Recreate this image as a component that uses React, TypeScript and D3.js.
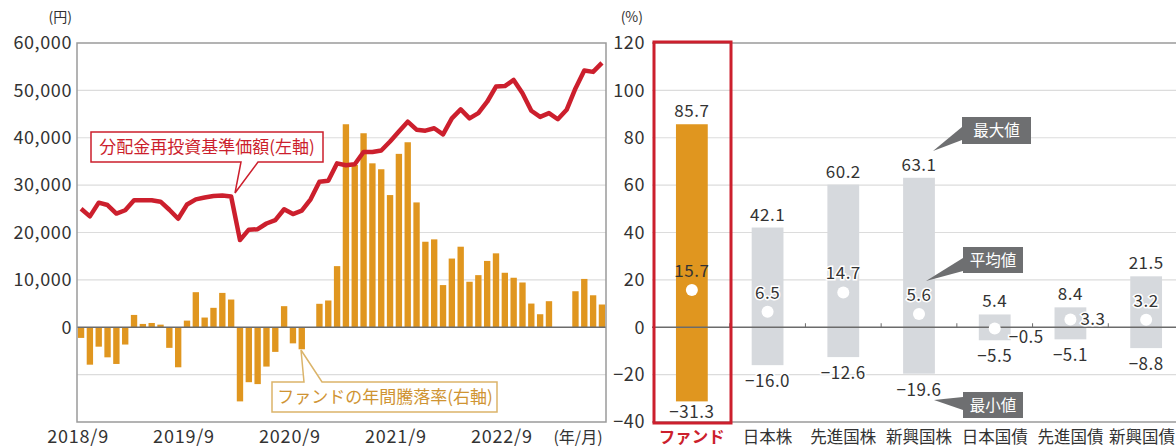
import React, { useEffect, useRef } from 'react';
import * as d3 from 'd3';

// monthly categories 2018/9 .. 2023/8
const monthLabels: string[] = [];
for (let i = 0; i < 60; i++) {
  const m = 8 + i;
  monthLabels.push(`${2018 + Math.floor(m / 12)}/${(m % 12) + 1}`);
}
const xTickLabels = ['2018/9', '2019/9', '2020/9', '2021/9', '2022/9'];

// 分配金再投資基準価額 (円)
const navValues = [
  25000, 23400, 26300, 25800, 24000, 24700, 26800, 26800, 26800, 26500,
  24800, 22900, 25900, 27000, 27400, 27700, 27800, 27600, 18400, 20600,
  20700, 21900, 22600, 24900, 23900, 24600, 27000, 30700, 30900, 34600,
  34200, 34400, 37000, 37000, 37300, 39200, 41300, 43400, 41700, 41500,
  42000, 40700, 44100, 46000, 44100, 45200, 47600, 50800, 50900, 52200,
  49400, 45700, 44400, 45200, 43900, 45900, 50400, 54200, 53900, 55800,
];

// ファンドの年間騰落率 (%)
const fundReturns = [
  -4.5, -15.8, -8.2, -12.7, -15.5, -7.3, 5.2, 1.4, 1.8, 1.1,
  -8.7, -16.9, 2.8, 14.8, 4.1, 8.2, 14.5, 11.7, -31.3, -23.2,
  -24.0, -16.6, -10.4, 8.9, -6.8, -9.3, 0, 9.9, 11.3, 25.8,
  85.7, 68.5, 81.9, 69.2, 66.7, 55.8, 73.2, 78.1, 52.7, 36.1,
  37.1, 17.8, 29.0, 34.0, 19.2, 22.0, 28.0, 31.2, 23.0, 20.9,
  18.9, 10.0, 5.5, 11.0, -0.3, 0, 15.2, 20.4, 13.5, 9.6,
];

const yenTicks = [0, 10000, 20000, 30000, 40000, 50000, 60000];
const pctTicks = [-40, -20, 0, 20, 40, 60, 80, 100, 120];

// 他の資産との騰落率比較
const assetCats = ['ファンド', '日本株', '先進国株', '新興国株', '日本国債', '先進国債', '新興国債'];
const maxVals = [85.7, 42.1, 60.2, 63.1, 5.4, 8.4, 21.5];
const avgVals = [15.7, 6.5, 14.7, 5.6, -0.5, 3.3, 3.2];
const minVals = [-31.3, -16.0, -12.6, -19.6, -5.5, -5.1, -8.8];
// where the average label sits relative to its dot
const avgLabelSide = ['above', 'above', 'above', 'above', 'rightBelow', 'right', 'above'];

const FONT = '"Noto Sans CJK JP", "Noto Sans", sans-serif';
const ORANGE = '#e0961f';
const RED = '#cc1f2d';
const GRAY_BAR = '#d6d9dd';
const TEXT = '#333';

const App = () => {
  const svgRef = useRef<SVGSVGElement>(null);

  useEffect(() => {
    const width = 1176;
    const height = 447;
    const top = 43;
    const bottom = 422;

    d3.select(svgRef.current).selectAll('*').remove();
    const svg = d3.select(svgRef.current)
      .attr('width', width)
      .attr('height', height)
      .style('font-family', FONT);

    svg.append('rect').attr('width', width).attr('height', height).attr('fill', '#fff');

    // scales
    const x = d3.scaleBand<number>()
      .domain(d3.range(monthLabels.length))
      .range([77, 606])
      .paddingInner(0.28)
      .paddingOuter(0.1);
    const yYen = d3.scaleLinear().domain([-20000, 60000]).range([bottom, top]);
    const yPct = d3.scaleLinear().domain([-40, 120]).range([bottom, top]);
    const xc = d3.scaleBand<string>()
      .domain(assetCats)
      .range([654, 1184])
      .paddingInner(0.58)
      .paddingOuter(0.29);

    // ---------- left chart ----------
    const left = svg.append('g');

    left.selectAll('.grid')
      .data([-10000, 10000, 20000, 30000, 40000, 50000])
      .enter()
      .append('line')
      .attr('x1', 77).attr('x2', 606)
      .attr('y1', d => yYen(d)).attr('y2', d => yYen(d))
      .attr('stroke', '#dcdcdc')
      .attr('stroke-width', 1.2);

    left.selectAll('.bar')
      .data(fundReturns)
      .enter()
      .append('rect')
      .attr('x', (d, i) => x(i)!)
      .attr('y', d => yPct(Math.max(0, d)))
      .attr('width', x.bandwidth())
      .attr('height', d => Math.abs(yPct(d) - yPct(0)))
      .attr('fill', ORANGE);

    left.append('line')
      .attr('x1', 77).attr('x2', 606)
      .attr('y1', yPct(0)).attr('y2', yPct(0))
      .attr('stroke', '#6b6b6b')
      .attr('stroke-width', 1.5);

    left.append('rect')
      .attr('x', 77).attr('y', top)
      .attr('width', 529).attr('height', bottom - top)
      .attr('fill', 'none')
      .attr('stroke', '#9a9a9a')
      .attr('stroke-width', 1.5);

    const line = d3.line<number>()
      .x((d, i) => x(i)! + x.bandwidth() / 2)
      .y(d => yYen(d));
    left.append('path')
      .datum(navValues)
      .attr('d', line)
      .attr('fill', 'none')
      .attr('stroke', RED)
      .attr('stroke-width', 4.5)
      .attr('stroke-linejoin', 'round');

    // left axis (円)
    const yAxisL = left.append('g')
      .attr('transform', 'translate(77,0)')
      .call(d3.axisLeft(yYen).tickValues(yenTicks).tickSize(0).tickPadding(5).tickFormat(d3.format(',')));
    yAxisL.select('.domain').remove();
    yAxisL.selectAll('text')
      .style('font-size', '18px')
      .style('letter-spacing', '0.6px')
      .attr('fill', TEXT)
      .style('font-family', FONT);

    left.append('text')
      .attr('x', 72).attr('y', 22)
      .attr('text-anchor', 'end')
      .style('font-size', '14px')
      .attr('fill', TEXT)
      .text('(円)');

    // x axis
    const xAxis = left.append('g')
      .attr('transform', `translate(-3,${bottom})`)
      .call(d3.axisBottom(x)
        .tickValues(xTickLabels.map(l => monthLabels.indexOf(l)))
        .tickFormat(i => monthLabels[i as number])
        .tickSize(0)
        .tickPadding(8));
    xAxis.select('.domain').remove();
    xAxis.selectAll('text')
      .style('font-size', '18px')
      .style('letter-spacing', '0.8px')
      .attr('fill', TEXT)
      .style('font-family', FONT);

    left.append('text')
      .attr('x', 578).attr('y', 443)
      .attr('text-anchor', 'middle')
      .style('font-size', '16px')
      .attr('fill', TEXT)
      .text('(年/月)');

    // callout: 基準価額
    left.append('path')
      .attr('d', 'M91,132 H323 V162 H258 L235,193 L241,162 H91 Z')
      .attr('fill', '#fff')
      .attr('stroke', RED)
      .attr('stroke-width', 1.5);
    left.append('text')
      .attr('x', 207).attr('y', 153)
      .attr('text-anchor', 'middle')
      .style('font-size', '17px')
      .attr('fill', RED)
      .text('分配金再投資基準価額(左軸)');

    // callout: 年間騰落率
    left.append('path')
      .attr('d', 'M272,382 H304 L301,350 L322,382 H497 V412 H272 Z')
      .attr('fill', '#fff')
      .attr('stroke', '#dbb46a')
      .attr('stroke-width', 1.5);
    left.append('text')
      .attr('x', 385).attr('y', 403)
      .attr('text-anchor', 'middle')
      .style('font-size', '17px')
      .attr('fill', '#cf9433')
      .text('ファンドの年間騰落率(右軸)');

    // ---------- right axis (%) ----------
    const yAxisR = svg.append('g')
      .attr('transform', 'translate(650,0)')
      .call(d3.axisLeft(yPct).tickValues(pctTicks).tickSize(0).tickPadding(5));
    yAxisR.select('.domain').remove();
    yAxisR.selectAll('text')
      .style('font-size', '18px')
      .style('letter-spacing', '0.6px')
      .attr('fill', TEXT)
      .style('font-family', FONT);

    svg.append('text')
      .attr('x', 643).attr('y', 22)
      .attr('text-anchor', 'end')
      .style('font-size', '14px')
      .attr('fill', TEXT)
      .text('(%)');

    // ---------- right chart ----------
    const right = svg.append('g');
    const step = xc.step();
    const bw = xc.bandwidth();

    right.selectAll('.grid')
      .data([-20, 20, 40, 60, 80, 100])
      .enter()
      .append('line')
      .attr('x1', 652).attr('x2', width)
      .attr('y1', d => yPct(d)).attr('y2', d => yPct(d))
      .attr('stroke', '#dcdcdc')
      .attr('stroke-width', 1.2);

    [top, bottom].forEach(yy => {
      right.append('line')
        .attr('x1', 652).attr('x2', width)
        .attr('y1', yy).attr('y2', yy)
        .attr('stroke', '#9a9a9a')
        .attr('stroke-width', 1.5);
    });

    const rows = assetCats.map((c, i) => ({ c, i, max: maxVals[i], avg: avgVals[i], min: minVals[i], side: avgLabelSide[i] }));

    right.selectAll('.rbar')
      .data(rows)
      .enter()
      .append('rect')
      .attr('x', d => xc(d.c)!)
      .attr('y', d => yPct(d.max))
      .attr('width', bw)
      .attr('height', d => yPct(d.min) - yPct(d.max))
      .attr('fill', d => (d.i === 0 ? ORANGE : GRAY_BAR));

    right.append('line')
      .attr('x1', 652).attr('x2', width)
      .attr('y1', yPct(0)).attr('y2', yPct(0))
      .attr('stroke', '#6b6b6b')
      .attr('stroke-width', 1.5);

    right.selectAll('.tick-mark')
      .data(assetCats.slice(1))
      .enter()
      .append('line')
      .attr('x1', d => xc(d)! + bw / 2 - step / 2)
      .attr('x2', d => xc(d)! + bw / 2 - step / 2)
      .attr('y1', yPct(0) - 4)
      .attr('y2', yPct(0))
      .attr('stroke', '#6b6b6b')
      .attr('stroke-width', 1);

    right.selectAll('.dot')
      .data(rows)
      .enter()
      .append('circle')
      .attr('cx', d => xc(d.c)! + bw / 2)
      .attr('cy', d => yPct(d.avg))
      .attr('r', 6)
      .attr('fill', '#fff');

    const fmt = d3.format('.1f');
    const label = (sel: any) => sel
      .attr('fill', TEXT)
      .style('font-size', '17px')
      .style('letter-spacing', '0.5px')
      .attr('stroke', '#fff')
      .attr('stroke-width', 3)
      .attr('paint-order', 'stroke');

    right.selectAll('.maxl')
      .data(rows)
      .enter()
      .append('text')
      .attr('x', d => xc(d.c)! + bw / 2)
      .attr('y', d => yPct(d.max) - 7)
      .attr('text-anchor', 'middle')
      .text(d => fmt(d.max))
      .call(label);

    right.selectAll('.minl')
      .data(rows)
      .enter()
      .append('text')
      .attr('x', d => xc(d.c)! + bw / 2)
      .attr('y', d => Math.min(yPct(d.min) + 22, 418))
      .attr('text-anchor', 'middle')
      .text(d => fmt(d.min))
      .call(label);

    right.selectAll('.avgl')
      .data(rows)
      .enter()
      .append('text')
      .attr('x', d => {
        const cx = xc(d.c)! + bw / 2;
        return d.side === 'above' ? cx : d.side === 'right' ? cx + 10 : cx + 14;
      })
      .attr('y', d => {
        const cy = yPct(d.avg);
        return d.side === 'above' ? cy - 13 : d.side === 'right' ? cy + 6 : cy + 15;
      })
      .attr('text-anchor', d => (d.side === 'above' ? 'middle' : 'start'))
      .text(d => fmt(d.avg))
      .call(label)
      .attr('stroke-width', d => (d.i === 0 ? 0 : 3));

    // fund highlight box
    right.append('rect')
      .attr('x', 654).attr('y', 42)
      .attr('width', 77).attr('height', 381)
      .attr('fill', 'none')
      .attr('stroke', RED)
      .attr('stroke-width', 3);

    // category labels (the last one is kept inside the picture)
    right.selectAll('.cat')
      .data(rows)
      .enter()
      .append('text')
      .attr('x', d => (d.i === rows.length - 1 ? width - 1 : xc(d.c)! + bw / 2))
      .attr('y', 443)
      .attr('text-anchor', d => (d.i === rows.length - 1 ? 'end' : 'middle'))
      .style('font-size', '16.5px')
      .style('font-weight', d => (d.i === 0 ? 700 : 400))
      .attr('fill', d => (d.i === 0 ? RED : TEXT))
      .text(d => d.c);

    // callouts 最大値 / 平均値 / 最小値
    const callouts = [
      { text: '最大値', box: [962, 117, 69, 27], ptr: 'M962,127 L933,151 L962,140 Z' },
      { text: '平均値', box: [963, 247, 60, 26], ptr: 'M963,258 L926,281 L963,271 Z' },
      { text: '最小値', box: [963, 392, 60, 26], ptr: 'M963,397 L934,400 L963,410 Z' },
    ];
    callouts.forEach(co => {
      right.append('path').attr('d', co.ptr).attr('fill', '#6e6f71');
      right.append('rect')
        .attr('x', co.box[0]).attr('y', co.box[1])
        .attr('width', co.box[2]).attr('height', co.box[3])
        .attr('fill', '#6e6f71');
      right.append('text')
        .attr('x', co.box[0] + co.box[2] / 2)
        .attr('y', co.box[1] + co.box[3] / 2 + 5.5)
        .attr('text-anchor', 'middle')
        .style('font-size', '15.5px')
        .attr('fill', '#fff')
        .text(co.text);
    });
  }, []);

  return (
    <div style={{ position: 'absolute', left: 0, top: 0 }}>
      <svg ref={svgRef} style={{ display: 'block' }}></svg>
    </div>
  );
};

export default App;
